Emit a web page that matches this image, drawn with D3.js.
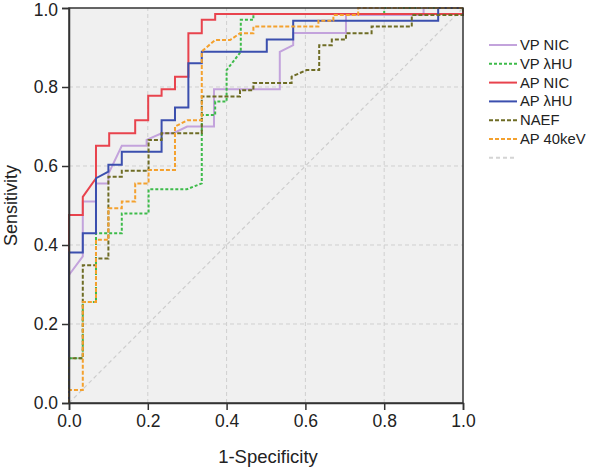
<!DOCTYPE html>
<html><head><meta charset="utf-8">
<script src="https://cdn.jsdelivr.net/npm/d3@7"></script>
<style>body{margin:0;background:#fff;} svg{display:block;font-family:"Liberation Sans",Arial,sans-serif;}</style>
</head><body>
<div id="chart"></div>
<script>
const seriesNames = ["VP NIC","VP \u03bbHU","AP NIC","AP \u03bbHU","NAEF","AP 40keV"];
const seriesColors = ["#c3a3dc","#3dbb4a","#e8434d","#3b4fae","#6e6c25","#f4a12e"];
const seriesDash = [null,"3,2",null,null,"4,2","4,2"];
const xTicks = [0,0.2,0.4,0.6,0.8,1.0];
const yTicks = [0,0.2,0.4,0.6,0.8,1.0];

const vpNic = [[0,0],[0,0.324],[0.035,0.371],[0.035,0.51],[0.0685,0.51],[0.0685,0.556],[0.10,0.556],[0.10,0.58],[0.134,0.651],[0.197,0.651],[0.197,0.666],[0.235,0.683],[0.265,0.683],[0.30,0.70],[0.368,0.70],[0.368,0.794],[0.535,0.794],[0.535,0.889],[0.569,0.906],[0.569,0.937],[0.703,0.937],[0.703,0.982],[0.90,0.982],[0.90,1.0],[1,1]];
const vpLhu = [[0,0],[0,0.113],[0.035,0.113],[0.035,0.256],[0.0685,0.256],[0.0685,0.43],[0.134,0.43],[0.134,0.48],[0.202,0.48],[0.202,0.541],[0.299,0.541],[0.337,0.556],[0.337,0.729],[0.371,0.729],[0.371,0.763],[0.40,0.763],[0.40,0.843],[0.436,0.889],[0.436,0.97],[0.468,0.97],[0.468,0.985],[0.80,0.985],[0.80,1.0],[1,1]];
const apNic = [[0,0],[0,0.476],[0.035,0.476],[0.035,0.522],[0.0685,0.569],[0.0685,0.651],[0.102,0.651],[0.102,0.683],[0.168,0.683],[0.168,0.716],[0.201,0.716],[0.201,0.778],[0.235,0.778],[0.235,0.794],[0.269,0.794],[0.269,0.826],[0.303,0.826],[0.303,0.936],[0.337,0.936],[0.337,0.97],[0.371,0.97],[0.371,0.985],[1,0.985],[1,1]];
const apLhu = [[0,0],[0,0.381],[0.035,0.381],[0.035,0.43],[0.0685,0.43],[0.0685,0.569],[0.10,0.586],[0.10,0.603],[0.134,0.603],[0.134,0.636],[0.235,0.636],[0.235,0.716],[0.269,0.716],[0.269,0.748],[0.303,0.748],[0.303,0.860],[0.337,0.860],[0.337,0.889],[0.502,0.889],[0.502,0.92],[0.569,0.92],[0.569,0.968],[0.937,0.968],[0.937,1.0],[1,1]];
const naef = [[0,0],[0,0.113],[0.035,0.113],[0.035,0.349],[0.0685,0.349],[0.0685,0.366],[0.10,0.366],[0.10,0.573],[0.134,0.573],[0.134,0.588],[0.202,0.588],[0.202,0.666],[0.235,0.666],[0.235,0.683],[0.337,0.683],[0.337,0.776],[0.434,0.776],[0.434,0.792],[0.468,0.792],[0.468,0.81],[0.565,0.81],[0.565,0.826],[0.603,0.843],[0.635,0.843],[0.635,0.906],[0.667,0.906],[0.667,0.92],[0.703,0.92],[0.703,0.936],[0.768,0.936],[0.768,0.953],[0.87,0.953],[0.87,0.982],[1,0.982],[1,1]];
const ap40 = [[0,0],[0,0.033],[0.035,0.033],[0.035,0.256],[0.0685,0.256],[0.0685,0.413],[0.10,0.413],[0.10,0.493],[0.134,0.493],[0.134,0.51],[0.168,0.51],[0.168,0.556],[0.202,0.556],[0.202,0.59],[0.269,0.59],[0.269,0.70],[0.301,0.716],[0.337,0.716],[0.337,0.89],[0.371,0.919],[0.409,0.919],[0.434,0.936],[0.468,0.936],[0.468,0.953],[0.633,0.953],[0.633,0.968],[0.671,0.968],[0.671,0.982],[0.734,0.982],[0.734,1.0],[1,1]];
const seriesData = [vpNic, vpLhu, apNic, apLhu, naef, ap40];
const refLine = [[0,0],[1,1]];

const W = 597, H = 469;
const m = {left:69, right:134, top:8, bottom:66};
const svg = d3.select("#chart").append("svg").attr("width",W).attr("height",H);
const x = d3.scaleLinear().domain([0,1]).range([m.left, W - m.right]);
const y = d3.scaleLinear().domain([0,1]).range([H - m.bottom, m.top]);

svg.append("rect").attr("x",x(0)).attr("y",y(1)).attr("width",x(1)-x(0)).attr("height",y(0)-y(1)).attr("fill","#f0f0f0");

// grid
svg.append("g").selectAll("line.v").data(xTicks.slice(1,-1)).join("line")
  .attr("x1",d=>x(d)).attr("x2",d=>x(d)).attr("y1",y(0)).attr("y2",y(1))
  .attr("stroke","#cfcfcf").attr("stroke-width",1).attr("stroke-dasharray","4,3");
svg.append("g").selectAll("line.h").data(yTicks.slice(1,-1)).join("line")
  .attr("y1",d=>y(d)).attr("y2",d=>y(d)).attr("x1",x(0)).attr("x2",x(1))
  .attr("stroke","#cfcfcf").attr("stroke-width",1).attr("stroke-dasharray","4,3");

const line = d3.line().x(d=>x(d[0])).y(d=>y(d[1]));
svg.append("path").datum(refLine).attr("d",line).attr("fill","none")
  .attr("stroke","#cdcdcd").attr("stroke-width",1.2).attr("stroke-dasharray","4,3");

seriesData.forEach((s,i)=>{
  const p = svg.append("path").datum(s).attr("d",line).attr("fill","none")
    .attr("stroke",seriesColors[i]).attr("stroke-width",2);
  if(seriesDash[i]) p.attr("stroke-dasharray",seriesDash[i]);
});

// frame
svg.append("rect").attr("x",x(0)).attr("y",y(1)).attr("width",x(1)-x(0)).attr("height",y(0)-y(1))
  .attr("fill","none").attr("stroke","#333").attr("stroke-width",1.5);

const xAxis = svg.append("g").attr("transform",`translate(0,${y(0)})`)
  .call(d3.axisBottom(x).tickValues(xTicks).tickFormat(d3.format(".1f")).tickSize(7).tickPadding(5));
const yAxis = svg.append("g").attr("transform",`translate(${x(0)},0)`)
  .call(d3.axisLeft(y).tickValues(yTicks).tickFormat(d3.format(".1f")).tickSize(7).tickPadding(4));
[xAxis,yAxis].forEach(a=>{
  a.select(".domain").attr("stroke","#333").attr("stroke-width",1.5);
  a.selectAll(".tick line").attr("stroke","#333").attr("stroke-width",1.5);
  a.selectAll(".tick text").attr("font-size",17.5).attr("fill","#222").attr("font-family","Liberation Sans, Arial, sans-serif");
});
yAxis.selectAll(".tick text").filter(d=>d===1).attr("dy","0.4em");

svg.append("text").attr("x",(x(0)+x(1))/2 + 2).attr("y",463).attr("text-anchor","middle")
  .attr("font-size",18.5).attr("fill","#222").text("1-Specificity");
svg.append("text").attr("transform",`translate(17,${(y(0)+y(1))/2}) rotate(-90)`).attr("text-anchor","middle")
  .attr("font-size",18).attr("fill","#222").text("Sensitivity");

// legend
const lg = svg.append("g");
const legendItems = seriesNames.map((n,i)=>({name:n,color:seriesColors[i],dash:seriesDash[i]}));
legendItems.push({name:"",color:"#d4d4d4",dash:"4,3"});
legendItems.forEach((d,i)=>{
  const yy = 45 + i*18.8;
  const l = lg.append("line").attr("x1",489).attr("x2",517).attr("y1",yy).attr("y2",yy)
    .attr("stroke",d.color).attr("stroke-width",2);
  if(d.dash) l.attr("stroke-dasharray",d.dash);
  lg.append("text").attr("x",520).attr("y",yy+5).attr("font-size",14.8).attr("fill","#222").text(d.name);
});
</script>
</body></html>
